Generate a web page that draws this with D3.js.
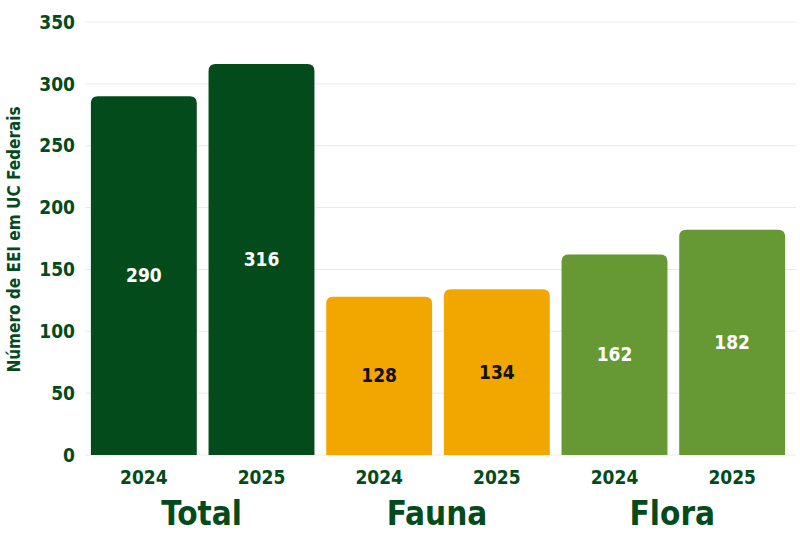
<!DOCTYPE html>
<html>
<head>
<meta charset="utf-8">
<script src="https://cdn.jsdelivr.net/npm/d3@7"></script>
<style>
  html, body { margin: 0; padding: 0; background: #fff; }
  svg text { font-family: "DejaVu Sans Condensed", "DejaVu Sans", sans-serif; font-weight: bold; }
</style>
</head>
<body>
<div id="chart"></div>
<script>
// data
const groups = ["Total", "Fauna", "Flora"];
const years = ["2024", "2025"];
const values2024 = [290, 128, 162];
const values2025 = [316, 134, 182];
const yTicks = [0, 50, 100, 150, 200, 250, 300, 350];
const groupColors = ["#034b1b", "#f2a600", "#669933"];
const labelColors = ["#ffffff", "#111111", "#ffffff"];

const W = 800, H = 540;
const M = { top: 22, right: 9, bottom: 85, left: 85 };
const INK = "#034b1b";

const svg = d3.select("#chart").append("svg").attr("width", W).attr("height", H);

const x0 = d3.scaleBand().domain(groups).range([M.left, W - M.right]).padding(0);
const x1 = d3.scaleBand().domain(years).range([0, x0.bandwidth()]).paddingInner(0.1).paddingOuter(0.05);
const y = d3.scaleLinear().domain([0, 350]).range([H - M.bottom, M.top]);

// grid
svg.append("g").selectAll("line").data(yTicks).join("line")
  .attr("x1", M.left).attr("x2", W - M.right + 5)
  .attr("y1", d => y(d)).attr("y2", d => y(d))
  .attr("stroke", "#e6ebe8").attr("stroke-width", 1);

// y tick labels
svg.append("g").selectAll("text").data(yTicks).join("text")
  .attr("x", 75).attr("y", d => y(d)).attr("dy", "0.35em")
  .attr("text-anchor", "end").attr("fill", INK).style("font-size", "19px")
  .text(d => d);

// y title
svg.append("text")
  .attr("transform", `translate(20,${(M.top + H - M.bottom) / 2 + 1}) rotate(-90)`)
  .attr("text-anchor", "middle").attr("fill", INK).style("font-size", "17px")
  .text("Número de EEI em UC Federais");

function topRounded(x, yTop, w, h, r) {
  return `M${x},${yTop + h}V${yTop + r}Q${x},${yTop} ${x + r},${yTop}H${x + w - r}Q${x + w},${yTop} ${x + w},${yTop + r}V${yTop + h}Z`;
}

const rows = [];
groups.forEach((g, i) => {
  rows.push({ g, i, year: "2024", v: values2024[i] });
  rows.push({ g, i, year: "2025", v: values2025[i] });
});

const bars = svg.append("g").selectAll("g").data(rows).join("g");
bars.append("path")
  .attr("d", d => topRounded(x0(d.g) + x1(d.year), y(d.v), x1.bandwidth(), y(0) - y(d.v), 7))
  .attr("fill", d => groupColors[d.i]);
bars.append("text")
  .attr("x", d => x0(d.g) + x1(d.year) + x1.bandwidth() / 2)
  .attr("y", d => (y(d.v) + y(0)) / 2).attr("dy", "0.35em")
  .attr("text-anchor", "middle").attr("fill", d => labelColors[d.i])
  .style("font-size", "19px").text(d => d.v);

// year labels
svg.append("g").selectAll("text").data(rows).join("text")
  .attr("x", d => x0(d.g) + x1(d.year) + x1.bandwidth() / 2)
  .attr("y", 477).attr("dy", "0.35em")
  .attr("text-anchor", "middle").attr("fill", INK).style("font-size", "19px")
  .text(d => d.year);

// group labels
svg.append("g").selectAll("text").data(groups).join("text")
  .attr("x", d => x0(d) + x0.bandwidth() / 2 - 1)
  .attr("y", 513).attr("dy", "0.35em")
  .attr("text-anchor", "middle").attr("fill", INK).style("font-size", "33px")
  .text(d => d);
</script>
</body>
</html>
